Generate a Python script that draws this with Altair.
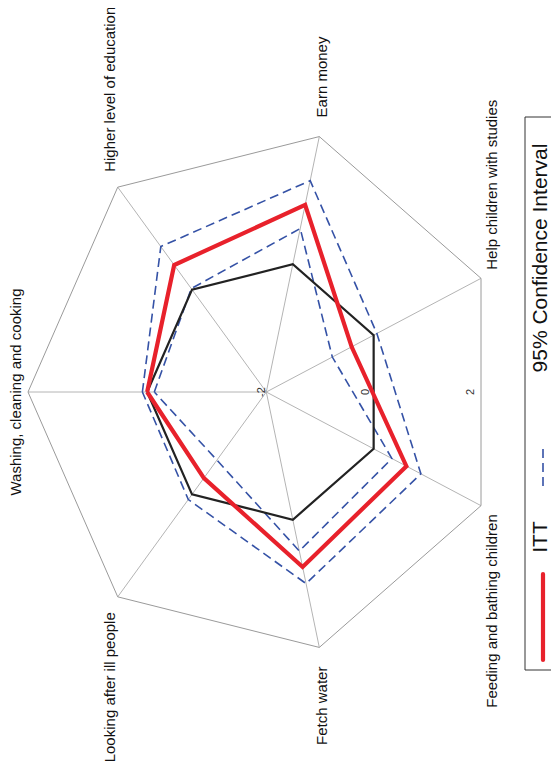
import altair as alt
import pandas as pd

# ---------------- data ----------------
categories = ["Washing, cleaning and cooking", "Higher level of education", "Earn money",
              "Help children with studies", "Feeding and bathing children", "Fetch water",
              "Looking after ill people"]
control = [0, 0, 0, 0, 0, 0, 0]
itt = [0.0, 0.48, 0.93, -0.41, 0.61, 0.74, -0.32]
ci_upper = [0.08, 0.84, 1.31, 0.06, 0.88, 1.00, 0.10]
ci_lower = [-0.12, 0.02, 0.56, -0.77, 0.34, 0.49, -0.67]
axis_ticks = [-2, 0, 2]
r_min, r_max = -2, 2
legend_labels = ["ITT", "95% Confidence Interval"]

N = len(categories)
rows = []
for name, vals in [("Control", control), ("ITT", itt), ("CI upper", ci_upper),
                   ("CI lower", ci_lower), ("Ring", [r_max] * N)]:
    for i in range(N + 1):
        rows.append({"series": name, "order": i, "idx": i % N, "value": vals[i % N]})
df_lines = pd.DataFrame(rows)
df_spokes = pd.DataFrame({"idx": list(range(N)), "name": categories})
df_ticks = pd.DataFrame({"tick": axis_ticks, "label": [str(t) for t in axis_ticks]})

XS = alt.Scale(domain=[-1, 1], range=[20, 496.6])
YS = alt.Scale(domain=[-1, 1], range=[646, 122])

ANG = f"PI - datum.idx * 2 * PI / {N}"
RNORM = f"(datum.value - ({r_min})) / ({r_max} - ({r_min}))"


def xy(field_x, field_y):
    return dict(x=alt.X(f"{field_x}:Q", scale=XS, axis=None),
                y=alt.Y(f"{field_y}:Q", scale=YS, axis=None))


base = alt.Chart(df_lines).transform_calculate(
    ang=ANG, r=RNORM
).transform_calculate(
    px="datum.r * cos(datum.ang)", py="datum.r * sin(datum.ang)"
)


def poly(series, **mk):
    return base.transform_filter(alt.datum.series == series).mark_line(**mk).encode(
        order="order:Q", **xy("px", "py"))


ring = poly("Ring", color="#9a9a9a", strokeWidth=1)
ctrl = poly("Control", color="#222222", strokeWidth=2.2)
itt_l = poly("ITT", color="#e8212b", strokeWidth=4.2)
up_l = poly("CI upper", color="#3552a6", strokeWidth=1.6, strokeDash=[9, 5])
lo_l = poly("CI lower", color="#3552a6", strokeWidth=1.6, strokeDash=[9, 5])

spokes = alt.Chart(df_spokes).transform_calculate(
    ang=ANG
).transform_calculate(
    x0="0", y0="0", x1="cos(datum.ang)", y1="sin(datum.ang)"
).mark_rule(color="#b4b4b4", strokeWidth=1).encode(
    x=alt.X("x0:Q", scale=XS, axis=None), y=alt.Y("y0:Q", scale=YS, axis=None),
    x2="x1:Q", y2="y1:Q")

lab_base = alt.Chart(df_spokes).transform_calculate(
    ang=ANG
).transform_calculate(
    lx="1.05 * cos(datum.ang)", ly="1.075 * sin(datum.ang)"
)
lab_kw = dict(angle=270, baseline="middle", font="Liberation Sans", fontSize=15, color="#111111")
lab_mid = lab_base.transform_filter(alt.datum.idx == 0).mark_text(align="center", **lab_kw).encode(
    text="name:N", **xy("lx", "ly"))
lab_top = lab_base.transform_filter("datum.idx >= 1 && datum.idx <= 3").mark_text(align="left", **lab_kw).encode(
    text="name:N", **xy("lx", "ly"))
lab_bot = lab_base.transform_filter("datum.idx >= 4").mark_text(align="right", **lab_kw).encode(
    text="name:N", **xy("lx", "ly"))

ticks = alt.Chart(df_ticks).transform_calculate(
    tx=f"(datum.tick - ({r_min})) / ({r_max} - ({r_min})) * 0.88 - 0.02", ty="0"
).mark_text(angle=270, align="center", baseline="middle", font="Liberation Sans",
            fontSize=11, color="#333333").encode(text="label:N", **xy("tx", "ty"))

# ---------------- legend (rotated) ----------------
one = alt.Chart(pd.DataFrame({"k": [0]}))
leg_box = one.mark_rect(fillOpacity=0, stroke="#333333", strokeWidth=1).encode(
    x=alt.value(517), x2=alt.value(590), y=alt.value(109), y2=alt.value(662))
leg_red = one.mark_rule(color="#e8212b", strokeWidth=4.2, strokeCap="round").encode(
    x=alt.value(535), y=alt.value(566), y2=alt.value(652))
leg_blue = one.mark_rule(color="#3552a6", strokeWidth=1.6, strokeDash=[9, 5]).encode(
    x=alt.value(535), y=alt.value(441), y2=alt.value(478))
leg_t1 = one.mark_text(angle=270, align="center", baseline="middle", font="Liberation Sans",
                       fontSize=21, color="#111111", text=legend_labels[0]).encode(
    x=alt.value(533), y=alt.value(529))
leg_t2 = one.mark_text(angle=270, align="center", baseline="middle", font="Liberation Sans",
                       fontSize=21, color="#111111", text=legend_labels[1]).encode(
    x=alt.value(533), y=alt.value(250))

chart = alt.layer(
    spokes, ring, up_l, lo_l, ctrl, itt_l, ticks, lab_mid, lab_top, lab_bot,
    leg_box, leg_red, leg_blue, leg_t1, leg_t2
).properties(
    width=543, height=760, autosize=alt.AutoSizeParams(type="none"), padding=0
).configure_view(stroke=None)

chart.save("out.html", embed_options={"renderer": "svg", "actions": False})
